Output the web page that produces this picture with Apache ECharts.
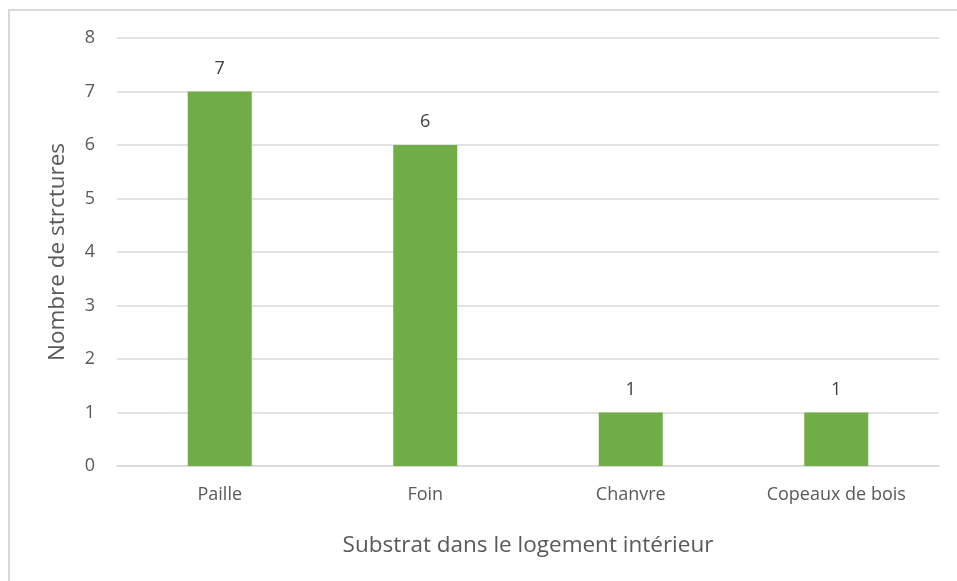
<!DOCTYPE html>
<html>
<head>
<meta charset="utf-8">
<script src="https://cdn.jsdelivr.net/npm/echarts@6/dist/echarts.min.js"></script>
<style>
  html, body { margin: 0; padding: 0; background: #fff; }
  #frame { position: absolute; left: 8px; top: 9px; width: 949px; height: 572px;
           border-left: 2px solid #d9d9d9; border-top: 2px solid #d9d9d9; box-sizing: border-box; }
  #main { position: absolute; left: 0; top: 0; width: 957px; height: 581px; }
</style>
</head>
<body>
<div id="frame"></div>
<div id="main"></div>
<script>
// substrats et nombre de structures
const categories = ['Paille', 'Foin', 'Chanvre', 'Copeaux de bois'];
const values = [7, 6, 1, 1];

const myChart = echarts.init(document.getElementById('main'));
const textColor = '#595959';
const font = 'Open Sans';

const option = {
    animation: false,
    grid: { left: 117, right: 18, top: 38, bottom: 115 },
    xAxis: {
        type: 'category',
        data: categories,
        name: 'Substrat dans le logement intérieur',
        nameLocation: 'middle',
        nameGap: 68,
        nameTextStyle: { color: textColor, fontSize: 22.5, fontFamily: font },
        axisLine: { lineStyle: { color: '#d9d9d9', width: 1.5 } },
        axisTick: { show: false },
        axisLabel: { color: textColor, fontSize: 18, fontFamily: font, margin: 20 }
    },
    yAxis: {
        type: 'value',
        min: 0,
        max: 8,
        interval: 1,
        name: 'Nombre de strctures',
        nameLocation: 'middle',
        nameGap: 48,
        nameTextStyle: { color: textColor, fontSize: 22.5, fontFamily: font },
        axisLine: { show: false },
        axisTick: { show: false },
        axisLabel: { color: textColor, fontSize: 18, fontFamily: font, margin: 22 },
        splitLine: { lineStyle: { color: '#d9d9d9', width: 1.5 } }
    },
    series: [
        {
            type: 'bar',
            data: values,
            barWidth: 64,
            itemStyle: { color: '#70ad47' },
            label: {
                show: true,
                position: 'top',
                distance: 14,
                color: '#404040',
                fontSize: 18,
                fontFamily: font
            }
        }
    ]
};
myChart.setOption(option);
</script>
</body>
</html>
